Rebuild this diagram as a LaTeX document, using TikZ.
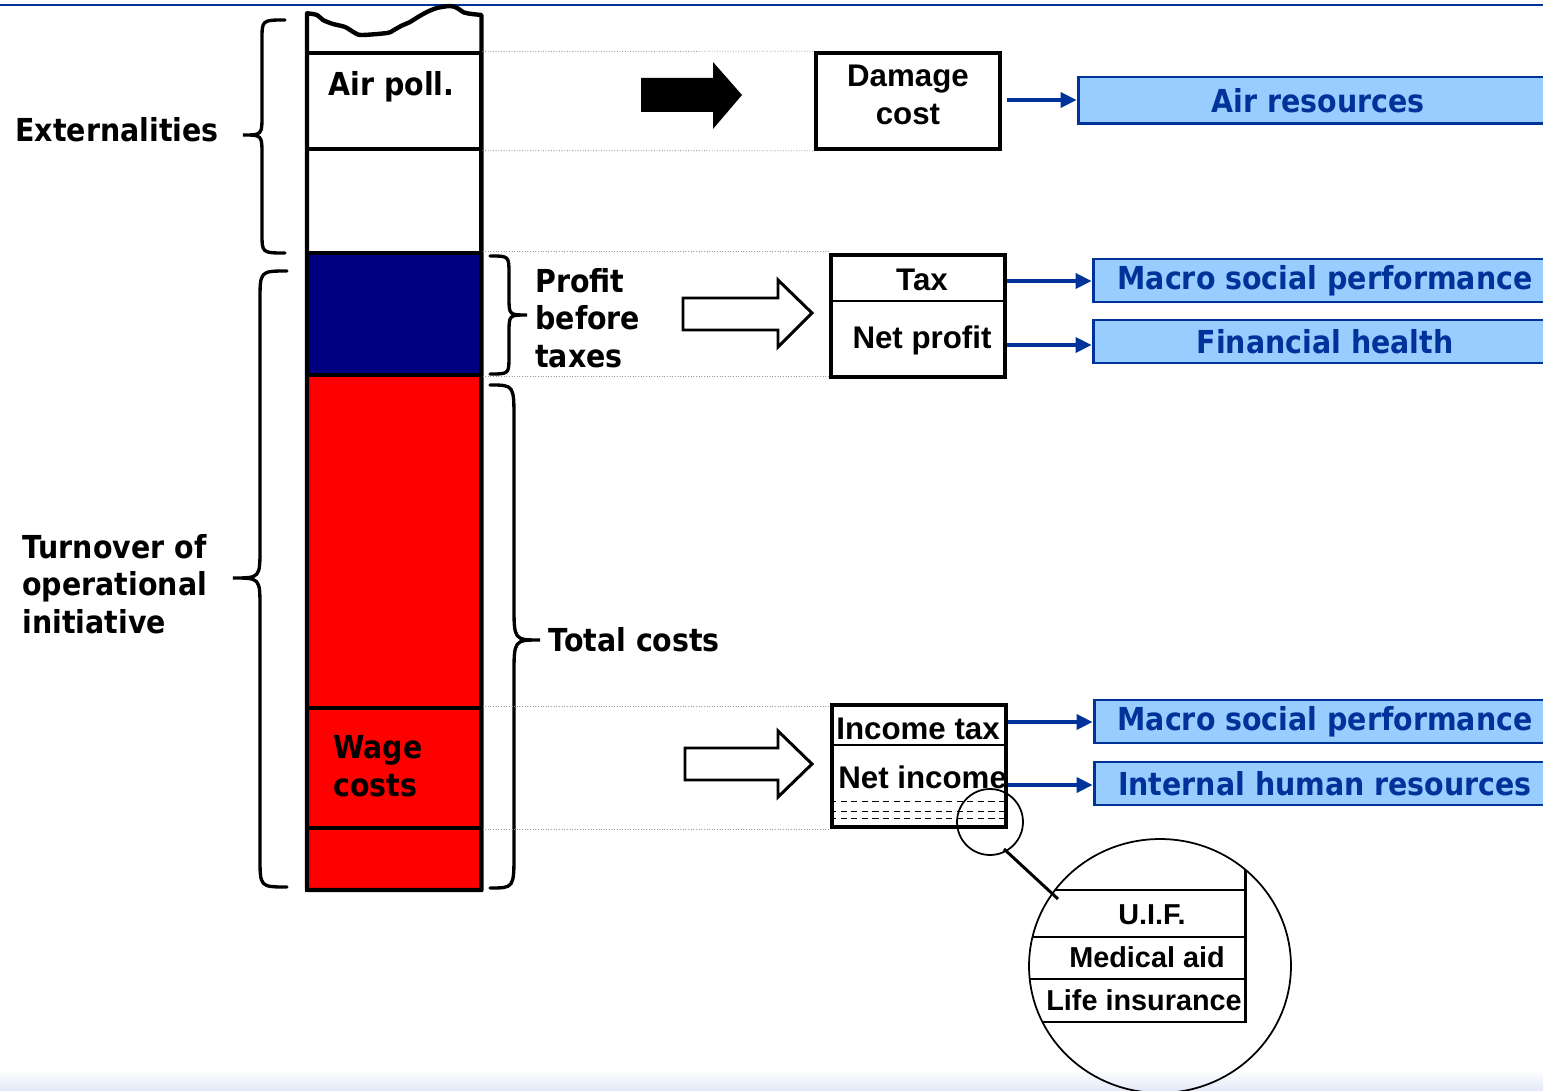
\documentclass[tikz,border=0pt]{standalone}
\usepackage{fontspec}
\setmainfont{DejaVu Sans}[FakeStretch=0.9]
\newfontfamily\arialf{Liberation Sans}
\usetikzlibrary{arrows.meta,shapes.geometric}
\definecolor{dblue}{HTML}{003399}
\definecolor{lblue}{HTML}{99CCFF}
\definecolor{navyc}{HTML}{000080}
\definecolor{guidegray}{HTML}{9A9A9A}
\definecolor{bandc}{HTML}{E2E8F8}
\tikzset{
  lbl/.style={font=\bfseries\fontsize{18}{21.5}\selectfont, inner sep=0pt, align=left, anchor=west},
  boxtxt/.style={font=\arialf\bfseries\fontsize{17.8}{21.5}\selectfont, inner sep=0pt, align=center},
  circtxt/.style={font=\arialf\bfseries\fontsize{16.4}{20}\selectfont, inner sep=0pt},
  seg/.style={draw, line width=1.8pt, inner sep=0pt, minimum width=3.48cm},
  wbox/.style={draw, line width=2pt, inner sep=0pt, fill=white},
  bluebox/.style={draw=dblue, fill=lblue, line width=1.7pt, text=dblue, inner sep=0pt,
    font=\bfseries\fontsize{18}{21.5}\selectfont},
  barrow/.style={draw=dblue, line width=2pt, -{Triangle[length=9pt,width=8.5pt]}},
  bracepath/.style={line width=1.9pt, line cap=round},
  guide/.style={draw=guidegray, line width=0.5pt, densely dotted},
  blockarrow/.style={line width=1.7pt, line join=miter},
}
\begin{document}
\begin{tikzpicture}[x=0.02cm, y=-0.02cm]
\useasboundingbox (0,0) rectangle (1543,1091);
\clip (0,0) rectangle (1543,1091);
\fill[white] (0,0) rectangle (1543,1091);
\shade[top color=white, bottom color=bandc] (0,1070) rectangle (1543,1091);
\draw[dblue, line width=1.2pt] (0,5) -- (1543,5);

% column segments
\node[seg, fill=white, minimum height=1.92cm] (airseg) at (394,101) {};
\node[seg, fill=white, minimum height=2.08cm] (blankseg) at (394,201) {};
\node[seg, fill=navyc, minimum height=2.44cm] (profitseg) at (394,314) {};
\node[seg, fill=red, minimum height=6.66cm] (costseg) at (394,541.5) {};
\node[seg, fill=red, minimum height=2.40cm] (wageseg) at (394,768) {};
\node[seg, fill=red, minimum height=1.24cm] (restseg) at (394,859) {};
\draw[line width=2.5pt, line join=round] (307,890) -- (307,13.3)
  -- plot[smooth] coordinates {(307,13.3) (317,15) (323,20) (333,24) (345,27) (355,33) (362,35) (387,33) (394,30) (401,26) (410,22) (418,17) (427,12) (437,8) (450,6) (457,8) (464,12.5) (472,14) (481.5,15)}
  -- (481.5,890) -- cycle;

\node[lbl] (airtxt) at (328,87) {Air poll.};
\node[lbl] (wagetxt) at (333,766) {Wage\\costs};

% braces
\draw[bracepath] (285,20) .. controls (262,20) .. (262,40) -- (262,115) .. controls (262,135) .. (243,135) .. controls (262,135) .. (262,155) -- (262,233) .. controls (262,253) .. (285,253);
\draw[bracepath] (287,271) .. controls (260,271) .. (260,301) -- (260,548) .. controls (260,578) .. (233,578) .. controls (260,578) .. (260,608) -- (260,857) .. controls (260,887) .. (287,887);
\draw[bracepath] (490,256) .. controls (509,256) .. (509,274) -- (509,297) .. controls (509,315) .. (527,315) .. controls (509,315) .. (509,333) -- (509,356) .. controls (509,374) .. (490,374);
\draw[bracepath] (490,385) .. controls (514,385) .. (514,420) -- (514,605) .. controls (514,640) .. (540,640) .. controls (514,640) .. (514,675) -- (514,853) .. controls (514,888) .. (490,888);

\node[lbl] (extlbl) at (15,130) {Externalities};
\node[lbl] (turnlbl) at (22,584) {Turnover of\\operational\\initiative};
\node[lbl] (proflbl) at (535,318) {Profit\\before\\taxes};
\node[lbl] (costlbl) at (548,640) {Total costs};

% boxes
\node[wbox, minimum width=3.68cm, minimum height=1.92cm] (dmgbox) at (908,101) {};
\node[boxtxt] (dmgtxt) at (908,95) {Damage\\cost};
\node[wbox, minimum width=3.48cm, minimum height=2.44cm] (taxbox) at (918,316) {};
\draw[line width=1.5pt] (taxbox.west |- 0,301) -- (taxbox.east |- 0,301);
\node[boxtxt] (taxtxt) at (922,280) {Tax};
\node[boxtxt] (nptxt) at (922,340) {Net profit};
\node[wbox, minimum width=3.48cm, minimum height=2.44cm] (incbox) at (919,766) {};
\draw[line width=1.5pt] (incbox.west |- 0,745) -- (incbox.east |- 0,745);
\foreach \yy in {801,811,818}{
  \draw[line width=0.5pt, dash pattern=on 3.5pt off 2.5pt] (incbox.west |- 0,\yy) -- (incbox.east |- 0,\yy);
}
\node[boxtxt, anchor=west] (inctax) at (836,729) {Income tax};
\node[boxtxt, anchor=west] (netinc) at (838,777) {Net income};

% guide lines
\draw[guide] (airseg.north east) -- (dmgbox.north west);
\draw[guide] (airseg.south east) -- (dmgbox.south west);
\draw[guide] (profitseg.north east) -- (profitseg.north east -| taxbox.west);
\draw[guide] (profitseg.south east) -- (profitseg.south east -| taxbox.west);
\draw[guide] (wageseg.north east) -- (wageseg.north east -| incbox.west);
\draw[guide] (wageseg.south east) -- (wageseg.south east -| incbox.west);

% block arrows
\fill[black] (641,78) -- (713,78) -- (713,62) -- (742,95) -- (713,129) -- (713,112) -- (641,112) -- cycle;
\draw[blockarrow, fill=white] (683,298) -- (778,298) -- (778,280) -- (812,313) -- (778,347) -- (778,330) -- (683,330) -- cycle;
\draw[blockarrow, fill=white] (685,748) -- (778,748) -- (778,731) -- (812,764) -- (778,797) -- (778,780) -- (685,780) -- cycle;

% blue boxes
\node[bluebox, minimum width=9.6cm, minimum height=0.94cm] (airres) at (1318,100.5) {Air resources};
\node[bluebox, minimum width=9.28cm, minimum height=0.86cm] (macroA) at (1325,280.5) {Macro social performance};
\node[bluebox, minimum width=9.28cm, minimum height=0.86cm] (finh) at (1325,341.5) {Financial health};
\node[bluebox, minimum width=9.24cm, minimum height=0.86cm] (macroB) at (1325,721.5) {Macro social performance};
\node[bluebox, minimum width=9.24cm, minimum height=0.86cm] (ihr) at (1325,783.5) {Internal human resources};

\coordinate (r0) at (0,100);
\coordinate (r1) at (0,281);
\coordinate (r2) at (0,345);
\coordinate (r3) at (0,722);
\coordinate (r4) at (0,785);
\draw[barrow] ([xshift=0.1cm]dmgbox.east |- r0) -- (airres.west |- r0);
\draw[barrow] (taxbox.east |- r1) -- (macroA.west |- r1);
\draw[barrow] (taxbox.east |- r2) -- (finh.west |- r2);
\draw[barrow] (incbox.east |- r3) -- (macroB.west |- r3);
\draw[barrow] (incbox.east |- r4) -- (ihr.west |- r4);

% magnifier
\node[circle, draw, line width=1pt, minimum size=1.32cm, inner sep=0pt] (spot) at (990,822) {};
\node[ellipse, draw, line width=1pt, minimum width=5.24cm, minimum height=5.08cm, inner sep=0pt] (zoomc) at (1160,966) {};
\coordinate (lensA) at (1004,849);
\coordinate (lensB) at (1058,899);
\draw[line width=1.7pt] (lensA) -- (lensB);
\begin{scope}
  \clip (zoomc.center) ellipse [x radius=2.62cm, y radius=2.54cm];
  \draw[line width=0.9pt] (1000,890) -- (1245,890);
  \draw[line width=0.9pt] (1000,937) -- (1245,937);
  \draw[line width=0.9pt] (1000,979) -- (1245,979);
  \draw[line width=1.7pt] (1000,1022) -- (1245,1022);
  \draw[line width=1.7pt] (1245,840) -- (1245,1023);
\end{scope}
\node[circtxt] (uif) at (1152,915) {U.I.F.};
\node[circtxt] (medaid) at (1147,957) {Medical aid};
\node[circtxt, anchor=west] (lifeins) at (1046,1000) {Life insurance};
\end{tikzpicture}
\end{document}
